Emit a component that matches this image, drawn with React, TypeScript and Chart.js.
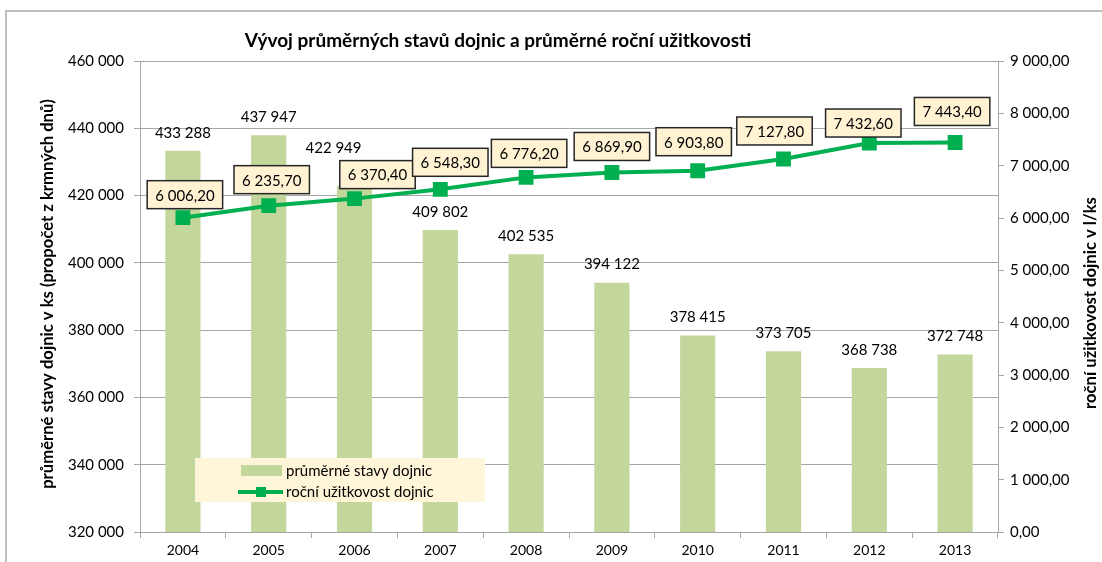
import React, { useEffect, useRef } from "react";
import { Chart, registerables } from "chart.js";

Chart.register(...registerables);

const years = ["2004", "2005", "2006", "2007", "2008", "2009", "2010", "2011", "2012", "2013"];
const herdSize = [433288, 437947, 422949, 409802, 402535, 394122, 378415, 373705, 368738, 372748];
const milkYield = [6006.2, 6235.7, 6370.4, 6548.3, 6776.2, 6869.9, 6903.8, 7127.8, 7432.6, 7443.4];

const titleText = "Vývoj průměrných stavů dojnic a průměrné roční užitkovosti";
const leftAxisTitle = "průměrné stavy dojnic v ks (propočet z krmných dnů)";
const rightAxisTitle = "roční užitkovost dojnic v l/ks";
const barLabel = "průměrné stavy dojnic";
const lineLabel = "roční užitkovost dojnic";

const FONT = "Lato, 'Noto Sans', sans-serif";
const BAR_COLOR = "#C3D69B";
const LINE_COLOR = "#00B050";
const GRID = "#a6a6a6";

// label nudges (style only)
const barLabelNudge: Array<[number, number]> = [
  [0, 0], [0, 0], [-21, -19], [0, 0], [0, 0], [0, 0], [0, 0], [0, 0], [0, 0], [0, 0],
];
const lineLabelNudge: Array<[number, number]> = [
  [2, -23], [3, -26], [23, -24], [10, -27], [3, -24], [0, -26], [-4, -29], [-9, -28], [-6, -20], [-3, -31],
];

const fmtInt = (v: number) => String(Math.round(v)).replace(/\B(?=(\d{3})+(?!\d))/g, " ");
const fmtDec = (v: number) => {
  const [i, d] = v.toFixed(2).split(".");
  return i.replace(/\B(?=(\d{3})+(?!\d))/g, " ") + "," + d;
};

function fitFont(ctx: CanvasRenderingContext2D, text: string, target: number, weight: string) {
  ctx.font = `${weight} 20px ${FONT}`;
  const w = ctx.measureText(text).width;
  const size = (20 * target) / w;
  ctx.font = `${weight} ${size.toFixed(2)}px ${FONT}`;
  return size;
}

const decorPlugin = {
  id: "decor",
  beforeDraw(chart: any) {
    const ctx = chart.ctx;
    ctx.save();
    ctx.fillStyle = "#ffffff";
    ctx.fillRect(0, 0, chart.width, chart.height);
    ctx.strokeStyle = "#c0c0c0";
    ctx.lineWidth = 2;
    ctx.strokeRect(6, 11, chart.width + 20, chart.height + 20);
    ctx.restore();
  },
  afterDatasetsDraw(chart: any) {
    const ctx = chart.ctx;
    ctx.save();
    const barMeta = chart.getDatasetMeta(0);
    ctx.font = `15px ${FONT}`;
    ctx.fillStyle = "#000";
    ctx.textAlign = "center";
    ctx.textBaseline = "middle";
    barMeta.data.forEach((el: any, i: number) => {
      const [dx, dy] = barLabelNudge[i];
      ctx.fillText(fmtInt(herdSize[i]), el.x + dx, el.y - 18 + dy);
    });
    const lineMeta = chart.getDatasetMeta(1);
    lineMeta.data.forEach((el: any, i: number) => {
      const [dx, dy] = lineLabelNudge[i];
      const text = fmtDec(milkYield[i]);
      const w = ctx.measureText(text).width + 16;
      const h = 28;
      const cx = el.x + dx;
      const cy = el.y + dy;
      ctx.fillStyle = "#FFF3D4";
      ctx.fillRect(cx - w / 2, cy - h / 2, w, h);
      ctx.strokeStyle = "#262626";
      ctx.lineWidth = 1.5;
      ctx.strokeRect(cx - w / 2, cy - h / 2, w, h);
      ctx.fillStyle = "#000";
      ctx.fillText(text, cx, cy + 1);
    });
    ctx.restore();
  },
  afterDraw(chart: any) {
    const ctx = chart.ctx;
    ctx.save();
    ctx.fillStyle = "#000";
    ctx.textAlign = "center";
    ctx.textBaseline = "middle";
    fitFont(ctx, titleText, 507, "bold");
    ctx.fillText(titleText, 498, 41);
    ctx.save();
    const axisSize = fitFont(ctx, leftAxisTitle, 390, "bold");
    ctx.translate(48, 294);
    ctx.rotate(-Math.PI / 2);
    ctx.fillText(leftAxisTitle, 0, 0);
    ctx.restore();
    ctx.save();
    ctx.font = `bold ${axisSize.toFixed(2)}px ${FONT}`;
    ctx.translate(1091, 303);
    ctx.rotate(-Math.PI / 2);
    ctx.fillText(rightAxisTitle, 0, 0);
    ctx.restore();
    // legend
    ctx.fillStyle = "#FFF5D9";
    ctx.fillRect(195, 458, 290, 44);
    ctx.fillStyle = BAR_COLOR;
    ctx.fillRect(241, 465, 41, 11);
    ctx.strokeStyle = LINE_COLOR;
    ctx.lineWidth = 4;
    ctx.beginPath();
    ctx.moveTo(238, 492);
    ctx.lineTo(283, 492);
    ctx.stroke();
    ctx.fillStyle = LINE_COLOR;
    ctx.fillRect(256, 487, 10, 10);
    ctx.fillStyle = "#000";
    ctx.font = `15px ${FONT}`;
    ctx.textAlign = "left";
    ctx.fillText(barLabel, 286, 471);
    ctx.fillText(lineLabel, 286, 492);
    ctx.restore();
  },
};

export default function App() {
  const ref = useRef<HTMLCanvasElement>(null);
  useEffect(() => {
    if (!ref.current) return;
    const chart = new Chart(ref.current, {
      type: "bar",
      data: {
        labels: years,
        datasets: [
          {
            type: "bar",
            label: barLabel,
            data: herdSize,
            backgroundColor: BAR_COLOR,
            yAxisID: "y",
            categoryPercentage: 1,
            barPercentage: 0.41,
            order: 1,
          },
          {
            type: "line",
            label: lineLabel,
            data: milkYield,
            borderColor: LINE_COLOR,
            backgroundColor: LINE_COLOR,
            borderWidth: 4,
            pointStyle: "rect",
            pointRadius: 10.5,
            pointBorderWidth: 0,
            yAxisID: "y1",
            order: 0,
          } as any,
        ],
      },
      options: {
        responsive: false,
        animation: false,
        layout: { padding: { left: 0, right: 0, top: 61, bottom: 0 } },
        plugins: { legend: { display: false }, tooltip: { enabled: false }, title: { display: false } },
        scales: {
          x: {
            grid: { drawOnChartArea: false, offset: true, tickLength: 6, color: GRID },
            border: { color: GRID },
            ticks: { color: "#000", font: { family: FONT, size: 14 }, padding: 4 },
            afterFit: (s: any) => { s.height = 30; },
          },
          y: {
            position: "left",
            min: 320000,
            max: 460000,
            grid: { color: GRID, tickLength: 6 },
            border: { color: GRID },
            ticks: {
              stepSize: 20000,
              color: "#000",
              font: { family: FONT, size: 15 },
              padding: 10,
              callback: (v: any) => fmtInt(Number(v)),
            },
            afterFit: (s: any) => { s.width = 140; },
          },
          y1: {
            position: "right",
            min: 0,
            max: 9000,
            grid: { drawOnChartArea: false, color: GRID, tickLength: 6 },
            border: { color: GRID },
            ticks: {
              stepSize: 1000,
              color: "#000",
              font: { family: FONT, size: 15 },
              padding: 6,
              callback: (v: any) => fmtDec(Number(v)),
            },
            afterFit: (s: any) => { s.width = 104; },
          },
        },
      },
      plugins: [decorPlugin],
    });
    return () => chart.destroy();
  }, []);
  return (
    <div style={{ position: "absolute", left: 0, top: 0, width: 1102, height: 562 }}>
      <canvas ref={ref} width={1102} height={562} style={{ display: "block" }} />
    </div>
  );
}
